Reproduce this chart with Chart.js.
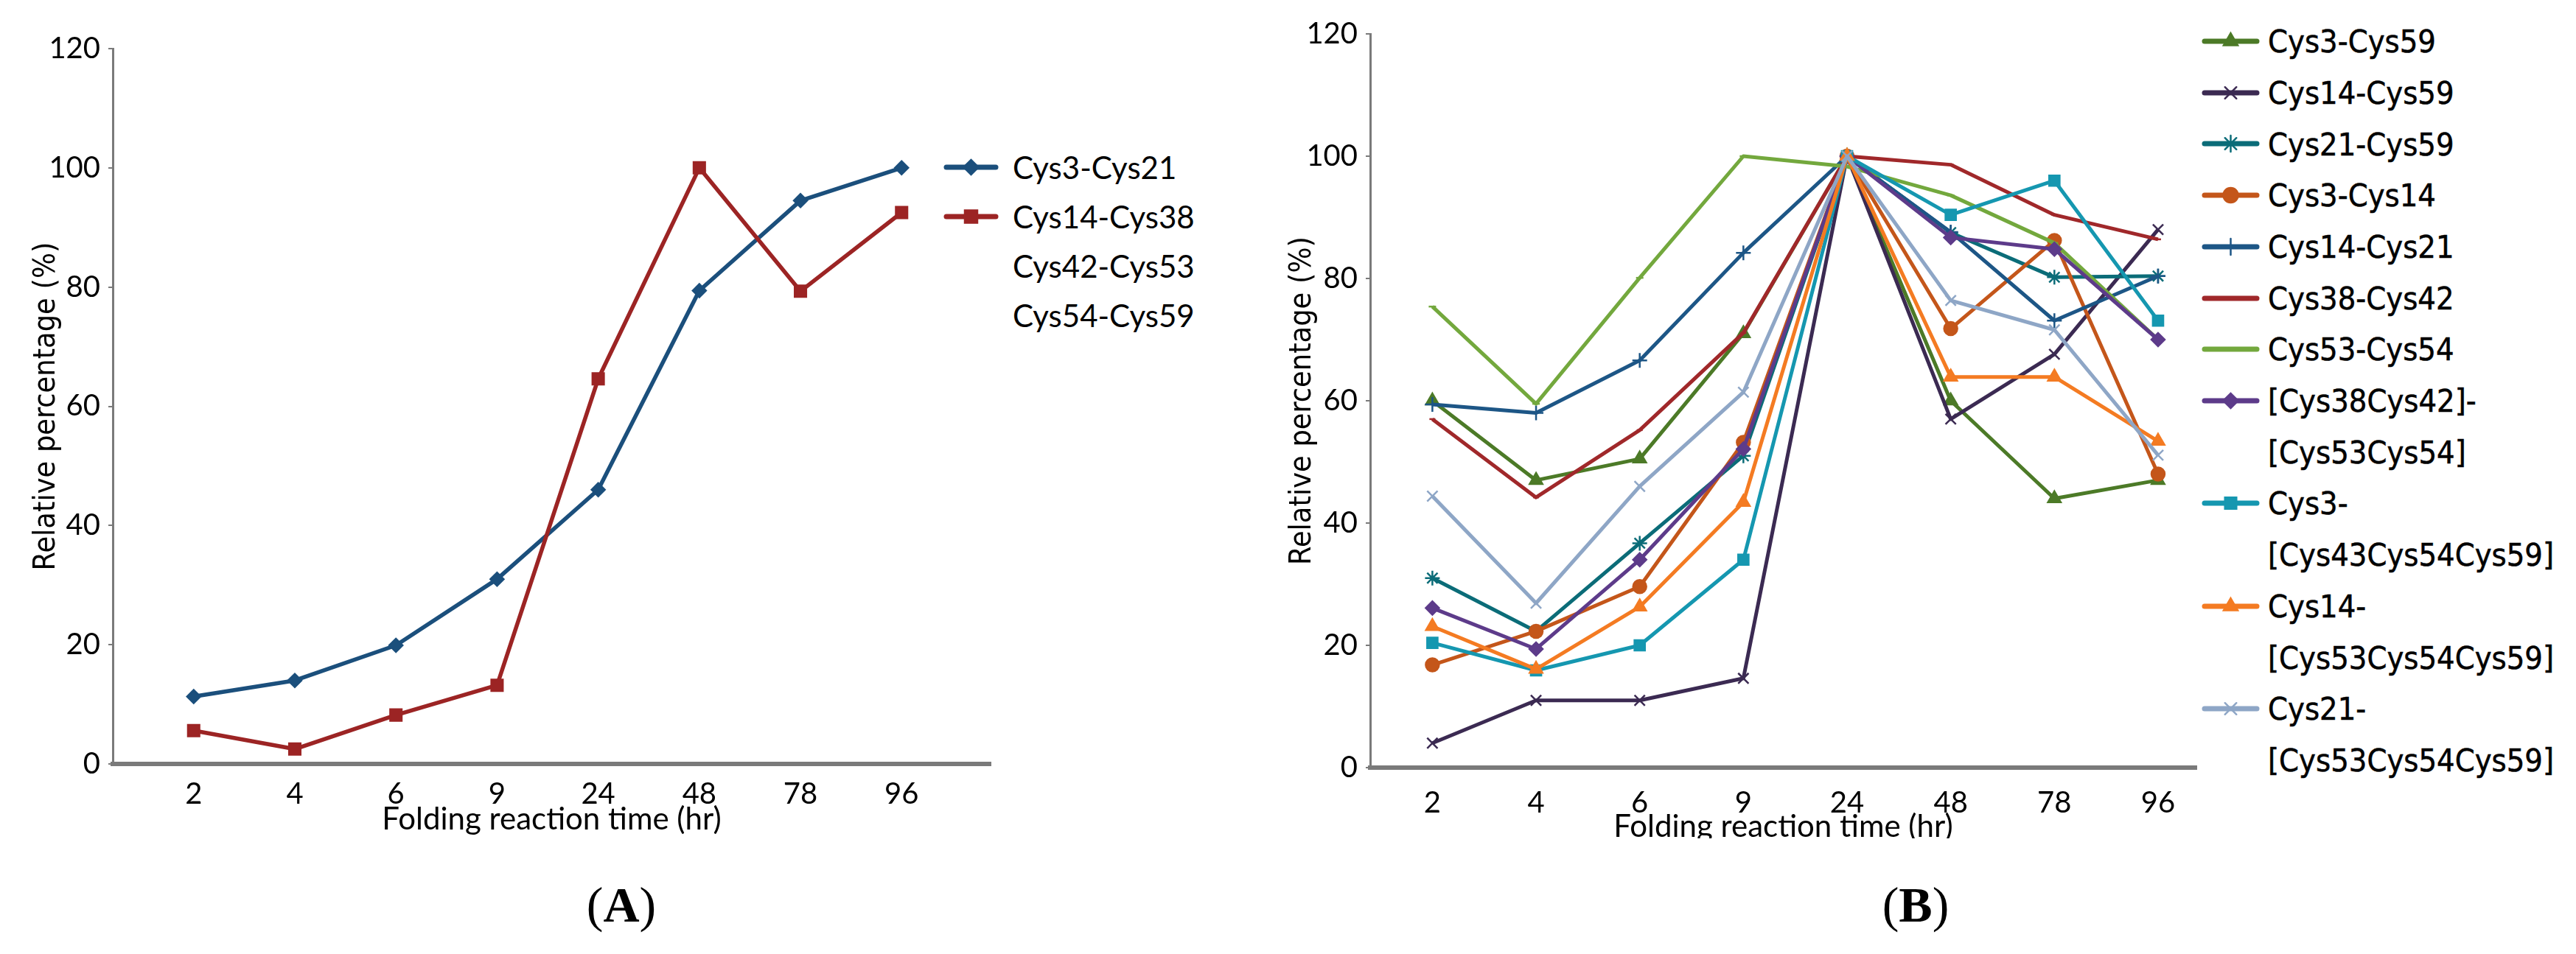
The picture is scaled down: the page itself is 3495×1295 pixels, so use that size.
<!DOCTYPE html>
<html>
<head>
<meta charset="utf-8">
<script src="https://cdn.jsdelivr.net/npm/chart.js@4.4.1/dist/chart.umd.min.js"></script>
<style>
  html, body { margin: 0; padding: 0; background: #fff; }
  body { width: 3495px; height: 1295px; position: relative; overflow: hidden; }
  .panel { position: absolute; top: 0; height: 1138px; overflow: hidden; }
  .legend { position: absolute; margin: 0; padding: 0; list-style: none; }
  .legend li { position: absolute; white-space: pre; color: #000; }
  .legend canvas { position: absolute; }
  #legendA li { font: 42px Lato, "Noto Sans", sans-serif; height: 67px; line-height: 67px; }
  #legendB li { font: 43px "DejaVu Sans Condensed", "DejaVu Sans", sans-serif; height: 70px; line-height: 70px; -webkit-text-stroke: 0.5px #000; }
  .tag { position: absolute; font: 68px "Liberation Serif", serif; transform: translate(-50%, -50%); }
</style>
</head>
<body>
<div class="panel" style="left:0;width:1360px"><canvas id="chartA" width="1360" height="1160"></canvas></div>
<div class="panel" style="left:1700px;width:1300px"><canvas id="chartB" width="1300" height="1160"></canvas></div>
<ul class="legend" id="legendA" style="left:1281px;top:0"></ul>
<ul class="legend" id="legendB" style="left:2988px;top:0"></ul>
<div class="tag" style="left:843px;top:1228px">(<b>A</b>)</div>
<div class="tag" style="left:2599px;top:1228px">(<b>B</b>)</div>
<script>
// folding time points (hr) and y ticks
const times = ['2', '4', '6', '9', '24', '48', '78', '96'];
const yTicks = [0, 20, 40, 60, 80, 100, 120];

// panel A
const namesA = ['Cys3-Cys21', 'Cys14-Cys38', 'Cys42-Cys53', 'Cys54-Cys59'];
const cys3Cys21 = [11.3, 14, 19.9, 31, 46, 79.4, 94.5, 100];
const cys14Cys38 = [5.6, 2.5, 8.2, 13.2, 64.6, 100, 79.3, 92.5];
const valuesA = [cys3Cys21, cys14Cys38];
const colorsA = ['#1b4f7c', '#9c2424'];
const markersA = ['rectRot', 'rect'];
const radiiA = [9, 11];

// panel B
const namesB = ['Cys3-Cys59', 'Cys14-Cys59', 'Cys21-Cys59', 'Cys3-Cys14', 'Cys14-Cys21',
  'Cys38-Cys42', 'Cys53-Cys54', '[Cys38Cys42]-\n[Cys53Cys54]', 'Cys3-\n[Cys43Cys54Cys59]',
  'Cys14-\n[Cys53Cys54Cys59]', 'Cys21-\n[Cys53Cys54Cys59]'];
const cys3Cys59 = [60, 47, 50.5, 71, 100, 60, 44, 47];
const cys14Cys59 = [4, 11, 11, 14.6, 100, 57, 67.6, 88];
const cys21Cys59 = [31, 22.3, 36.7, 51, 100, 87.5, 80.2, 80.4];
const cys3Cys14 = [16.8, 22.3, 29.6, 53.2, 100, 71.8, 86.2, 48];
const cys14Cys21 = [59.4, 58, 66.6, 84.2, 100, 87.6, 73.1, 80.4];
const cys38Cys42 = [57, 44.2, 55.2, 71.1, 100, 98.6, 90.4, 86.4];
const cys53Cys54 = [75.4, 59.5, 80.1, 100, 98.3, 93.6, 85.8, 70];
const c3842c5354 = [26.1, 19.4, 34, 52.1, 100, 86.7, 84.8, 70];
const c3c435459 = [20.4, 15.9, 20, 34, 100, 90.4, 96, 73.1];
const c14c535459 = [23.1, 16.1, 26.3, 43.4, 100, 63.9, 63.9, 53.4];
const c21c535459 = [44.4, 26.9, 46, 61.4, 100, 76.4, 71.6, 51.1];
const valuesB = [cys3Cys59, cys14Cys59, cys21Cys59, cys3Cys14, cys14Cys21, cys38Cys42,
  cys53Cys54, c3842c5354, c3c435459, c14c535459, c21c535459];
const colorsB = ['#4c7a27', '#3b2a52', '#0b6c78', '#c4561a', '#1d5686', '#a0282a',
  '#73a83d', '#5d3b8a', '#1597b0', '#f47b22', '#8ea6c6'];
const markersB = ['triangle', 'crossRot', 'star', 'circle', 'cross', 'line', 'line',
  'rectRot', 'rect', 'triangle', 'crossRot'];
const radiiB = [10, 10, 10, 9, 10, 4, 5, 9, 10, 10, 10];

const calibri = 'Lato, "Noto Sans", sans-serif';
const verdana = '"DejaVu Sans Condensed", "DejaVu Sans", sans-serif';
const axisGrey = '#7a7a7a';

function makeDatasets(values, names, colors, markers, radii, width) {
  return values.map((vals, i) => ({
    label: names[i],
    data: vals.map((v, k) => ({ x: k, y: v })),
    borderColor: colors[i],
    backgroundColor: colors[i],
    borderWidth: width,
    borderJoinStyle: 'round',
    pointStyle: markers[i],
    pointRadius: radii[i],
    pointBorderWidth: 2.5,
    pointBackgroundColor: colors[i],
    pointBorderColor: colors[i],
    order: values.length - i,
    tension: 0
  }));
}

function makeScales(o) {
  return {
    x: {
      type: 'linear', min: o.xMin, max: o.xMax,
      afterBuildTicks: s => { s.ticks = times.map((_, i) => ({ value: i })); },
      afterFit: s => { s.height = o.xHeight; },
      ticks: { callback: v => times[v], font: { family: calibri, size: 40 }, color: '#000',
        padding: o.xTickPad, autoSkip: false, maxRotation: 0 },
      grid: { display: false },
      border: { color: axisGrey, width: 6 },
      title: { display: true, text: 'Folding reaction time (hr)', color: '#000',
        font: { family: calibri, size: 42 }, padding: { top: 0, bottom: o.xTitlePad } }
    },
    y: {
      min: 0, max: 120,
      afterBuildTicks: s => { s.ticks = yTicks.map(v => ({ value: v })); },
      afterFit: s => { s.width = o.yWidth; },
      ticks: { font: { family: calibri, size: 40 }, color: '#000', padding: 11 },
      grid: { drawOnChartArea: false, drawTicks: true, tickLength: 6, color: axisGrey, lineWidth: 2 },
      border: { color: axisGrey, width: 3 },
      title: { display: true, text: 'Relative percentage (%)', color: '#000',
        font: { family: verdana, size: 41 }, padding: { top: o.yTitlePad, bottom: 0 } }
    }
  };
}

function makeChart(id, datasets, scaleOpts, padding) {
  return new Chart(document.getElementById(id), {
    type: 'line',
    data: { datasets },
    options: {
      responsive: false, animation: false, devicePixelRatio: 1,
      layout: { padding },
      plugins: { legend: { display: false }, tooltip: { enabled: false } },
      scales: makeScales(scaleOpts)
    }
  });
}

const chartA = makeChart('chartA', makeDatasets(valuesA, namesA, colorsA, markersA, radiiA, 5.5),
  { xMin: -0.8, xMax: 7.88, xHeight: 123, xTickPad: 9, xTitlePad: 22, yWidth: 153, yTitlePad: 39 },
  { top: 66, right: 16, left: 0, bottom: 0 });

const chartB = makeChart('chartB', makeDatasets(valuesB, namesB, colorsB, markersB, radiiB, 5),
  { xMin: -0.6, xMax: 7.37, xHeight: 118, xTickPad: 16, xTitlePad: 12, yWidth: 159, yTitlePad: 43 },
  { top: 46, right: 20, left: 0, bottom: 0 });

// html legend with real text, icons drawn with Chart.js point helper
function buildLegend(listId, names, colors, markers, radii, firstY, rowH, iconW, textX) {
  const list = document.getElementById(listId);
  let row = 0;
  names.forEach((name, i) => {
    const li = document.createElement('li');
    li.style.top = (firstY + row * rowH - rowH / 2) + 'px';
    li.style.left = textX + 'px';
    li.textContent = name;
    list.appendChild(li);
    if (colors[i]) {
      const c = document.createElement('canvas');
      c.width = iconW + 10; c.height = 30;
      c.style.left = (-5) + 'px';
      c.style.top = (firstY + row * rowH - 15) + 'px';
      const ctx = c.getContext('2d');
      ctx.strokeStyle = colors[i]; ctx.fillStyle = colors[i];
      ctx.lineWidth = 7; ctx.lineCap = 'round';
      ctx.beginPath(); ctx.moveTo(8, 15); ctx.lineTo(iconW + 2, 15); ctx.stroke();
      if (markers[i] && markers[i] !== 'line' && Chart.helpers && Chart.helpers.drawPoint) {
        ctx.lineWidth = 2.5;
        Chart.helpers.drawPoint(ctx, { pointStyle: markers[i], radius: radii[i] + 1, borderWidth: 2.5, rotation: 0 }, 5 + iconW / 2, 15);
      }
      list.appendChild(c);
    }
    row += name.split('\n').length;
  });
}

buildLegend('legendA', namesA, colorsA, markersA, radiiA, 227, 67, 73, 93);
buildLegend('legendB', namesB, colorsB, markersB, radiiB, 56, 69.7, 77, 89);
</script>
</body>
</html>
